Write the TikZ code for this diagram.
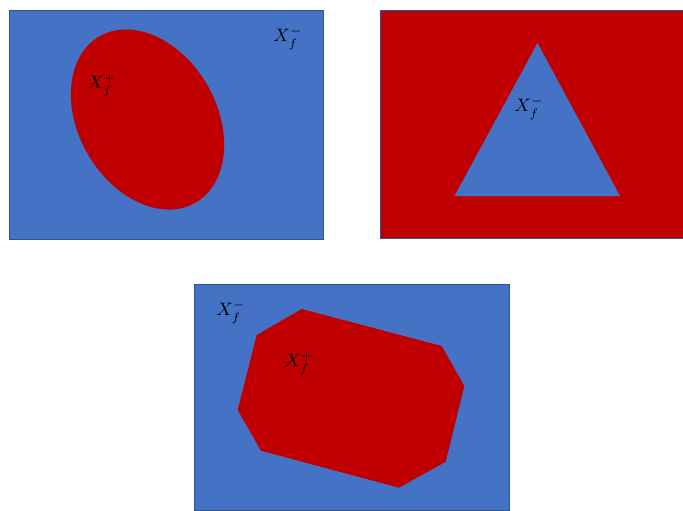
\documentclass[tikz,border=0pt]{standalone}
\usepackage{tikz}
\definecolor{setblue}{HTML}{4472C4}
\definecolor{setred}{HTML}{C00000}
\definecolor{edgeblue}{HTML}{2F528F}

\begin{document}
\begin{tikzpicture}[
  x=0.5pt, y=-0.5pt,
  panel/.style={draw=edgeblue, line width=0.5pt},
  blob/.style={draw=none},
  lab/.style={inner sep=0pt, font=\small}
]
\useasboundingbox (0,0) rectangle (683,510);
% panel 1: red ellipse inside blue set
\fill[setblue, panel] (9,10) rectangle (323,239);
\fill[setred, blob, shift={(147.5,119.5)}, rotate=-60] (0,0) ellipse [x radius=96, y radius=69];
\node[lab] (pos1) at (102,85) {$X_f^+$};
\node[lab] (neg1) at (288,38) {$X_f^-$};
% panel 2: blue triangle inside red set
\fill[setred, panel] (380,10) rectangle (683,238);
\fill[setblue, blob] (537.5,43) -- (620,196) -- (454.5,196) -- cycle;
\node[lab] (neg2) at (529,108) {$X_f^-$};
% panel 3: red octagon inside blue set
\fill[setblue, panel] (194.5,284.5) rectangle (509,510);
\fill[setred, blob] (301.7,309) -- (441.7,346) -- (464.3,386) -- (445.7,461.7)
  -- (399,487.7) -- (261,450.7) -- (237.7,410) -- (256.7,335) -- cycle;
\node[lab] (neg3) at (231,312) {$X_f^-$};
\node[lab] (pos3) at (299,363) {$X_f^+$};
\end{tikzpicture}
\end{document}
